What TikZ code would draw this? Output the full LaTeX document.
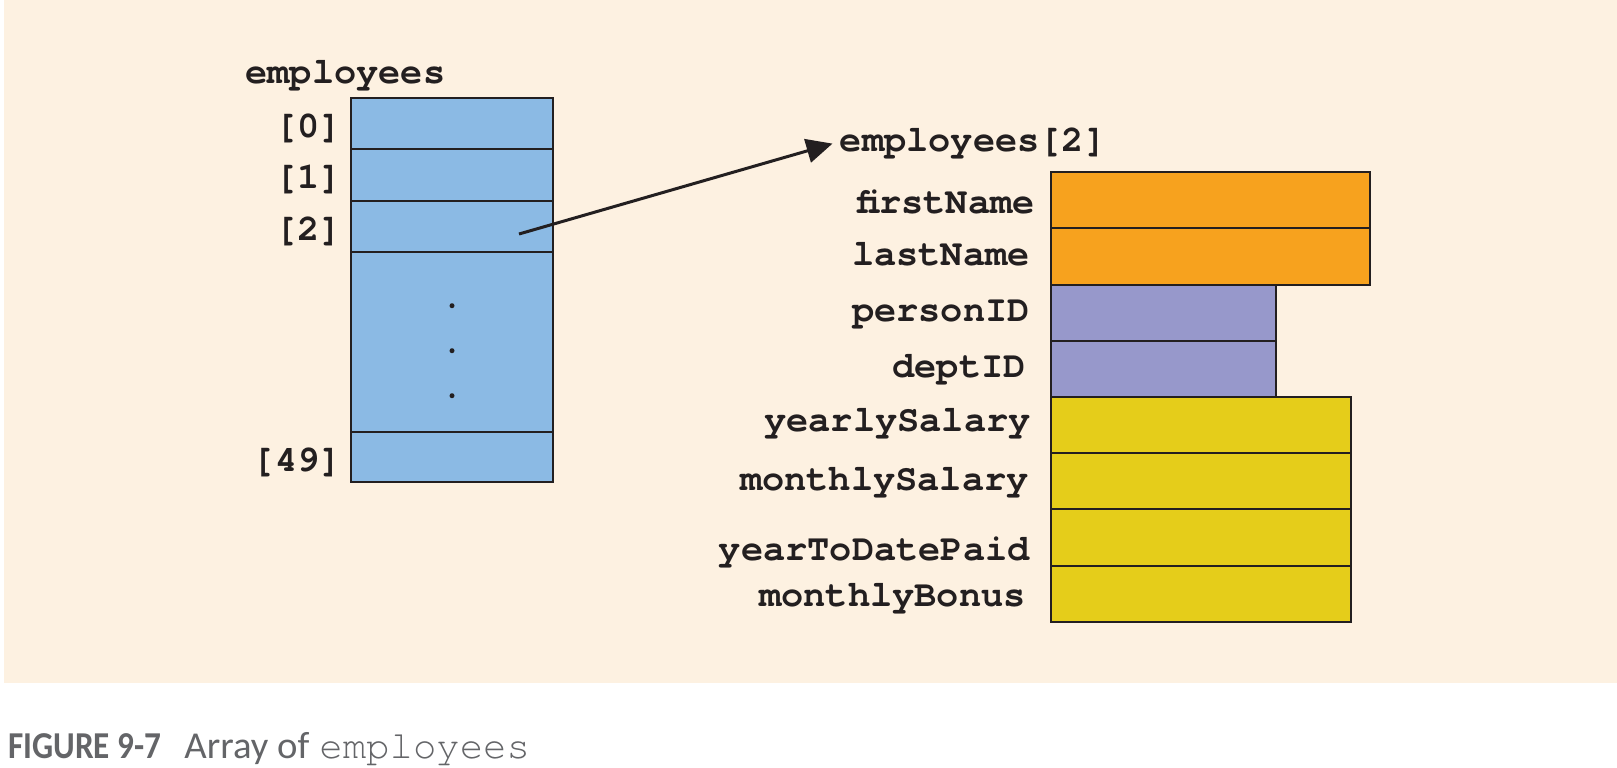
\documentclass[tikz,border=0pt]{standalone}
\usepackage{fontspec}
\usepackage{graphicx}
\setmonofont{TeX Gyre Cursor}
\newfontfamily\capsans{Carlito}
\usetikzlibrary{arrows.meta}
\definecolor{bgc}{RGB}{253,241,225}
\definecolor{cblue}{RGB}{139,186,228}
\definecolor{corange}{RGB}{247,162,30}
\definecolor{cpurple}{RGB}{151,152,203}
\definecolor{cyellow}{RGB}{229,205,26}
\definecolor{ink}{RGB}{35,31,32}
\definecolor{capgray}{RGB}{100,101,104}
\begin{document}
\begin{tikzpicture}[x=0.5pt,y=-0.5pt,
  cellbox/.style={draw=ink, line width=1pt, inner sep=0pt, outer sep=0pt, anchor=north west},
  acell/.style={cellbox, fill=cblue, minimum width=101.3pt},
  ocell/.style={cellbox, fill=corange, minimum width=159.35pt, minimum height=28.1pt},
  pcell/.style={cellbox, fill=cpurple, minimum width=112.4pt, minimum height=28.1pt},
  ycell/.style={cellbox, fill=cyellow, minimum width=150.1pt, minimum height=28.1pt},
  lbl/.style={inner sep=0pt, text=ink, font=\ttfamily\bfseries\fontsize{18.5}{20}\selectfont},
  capfont/.style={inner sep=0pt, text=capgray, anchor=base west}]
\useasboundingbox (0,0) rectangle (1617,767);
\fill[white] (0,0) rectangle (1617,767);
\fill[bgc] (4,0) rectangle (1617,683);
% left array
\node[acell, minimum height=25.5pt] (a0) at (350.7,98.3) {};
\node[acell, minimum height=25.7pt] (a1) at (350.7,149.3) {};
\node[acell, minimum height=25.5pt] (a2) at (350.7,200.7) {};
\node[acell, minimum height=90pt] (adots) at (350.7,251.7) {};
\node[acell, minimum height=25.3pt] (a49) at (350.7,431.7) {};
\fill[ink] (452,305.7) circle (2.5) (452,350.7) circle (2.5) (452,395.7) circle (2.5);
\node[lbl, anchor=base west] (arr) at (245,83.3) {employees};
\node[lbl, anchor=base east] (l0) at (342,137) {[0]};
\node[lbl, anchor=base east] (l1) at (342,188) {[1]};
\node[lbl, anchor=base east] (l2) at (342,240) {[2]};
\node[lbl, anchor=base east] (l49) at (342,471) {[49]};
% struct
\node[ocell] (f1) at (1050.8,172.2) {};
\node[ocell] (f2) at (1050.8,228.4) {};
\node[pcell] (f3) at (1050.8,284.6) {};
\node[pcell] (f4) at (1050.8,340.8) {};
\node[ycell] (f5) at (1050.8,397.0) {};
\node[ycell] (f6) at (1050.8,453.2) {};
\node[ycell] (f7) at (1050.8,509.4) {};
\node[ycell] (f8) at (1050.8,565.6) {};
\node[lbl, anchor=base east] (n1) at (1035,213.3) {firstName};
\node[lbl, anchor=base east] (n2) at (1030,265) {lastName};
\node[lbl, anchor=base east] (n3) at (1030,321.7) {personID};
\node[lbl, anchor=base east] (n4) at (1026,377.3) {deptID};
\node[lbl, anchor=base east] (n5) at (1031,431.7) {yearlySalary};
\node[lbl, anchor=base east] (n6) at (1029,490) {monthlySalary};
\node[lbl, anchor=base east] (n7) at (1030,560) {yearToDatePaid};
\node[lbl, anchor=base east] (n8) at (1026,606.7) {monthlyBonus};
% pointer
\node[lbl, anchor=base west, inner xsep=3.5pt] (e2) at (832.5,151.6) {employees[2]};
\coordinate (ptr) at (519,234);
\draw[ink, line width=1.5pt, -{Triangle[length=13pt,width=12pt]}] (ptr) -- (e2.west);
% caption
\node[capfont, font=\capsans\bfseries\fontsize{19}{22}\selectfont] (fig) at (8,758) {\resizebox{76.5pt}{\height}{FIGURE 9-7}};
\node[capfont, font=\capsans\fontsize{19}{22}\selectfont] (capt) at (184,758) {\resizebox{62.5pt}{\height}{Array of}};
\node[capfont, font=\ttfamily\fontsize{19.5}{22}\selectfont] (capm) at (319,758) {employees};
\end{tikzpicture}
\end{document}
